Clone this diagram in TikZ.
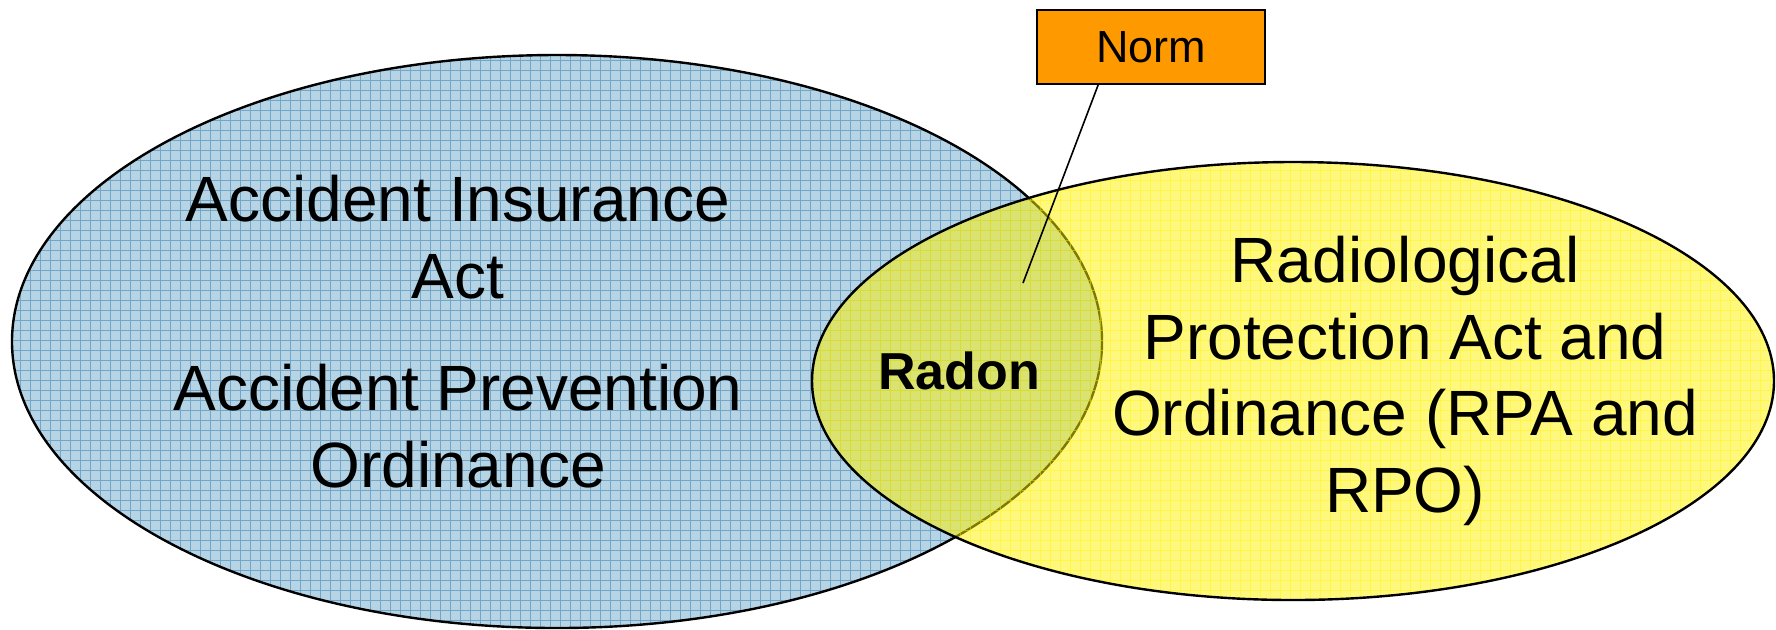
\documentclass[tikz,border=0pt]{standalone}
\usepackage{fontspec}
\setmainfont{Liberation Sans}
\usetikzlibrary{positioning,calc}
\definecolor{bluefill}{RGB}{182,212,228}
\definecolor{bluegrid}{RGB}{112,166,202}
\definecolor{normorange}{RGB}{255,153,0}
\tikzset{
  biglabel/.style={align=center,inner sep=0pt,font=\fontsize{32}{38.4}\selectfont},
  rim/.style={draw=black,line width=1.2pt},
  normbox/.style={draw,fill=normorange,line width=0.8pt,minimum width=114pt,minimum height=37pt,font=\fontsize{22.5}{26}\selectfont}
}
\begin{document}
\begin{tikzpicture}[x=0.5pt,y=-0.5pt]
\useasboundingbox (0,0) rectangle (1776,629);
\begin{scope}
\clip (557,341.5) ellipse [x radius=545, y radius=286.5];
\fill[bluefill] (0,0) rectangle (1776,629);
\draw[bluegrid,line width=0.4pt] (0,0) grid[step=5pt] (1776,629);
\end{scope}
\draw[rim] (557,341.5) ellipse [x radius=545, y radius=286.5];
\fill[yellow,fill opacity=0.5] (1293,381) ellipse [x radius=481, y radius=219];
\begin{scope}
\clip (1293,381) ellipse [x radius=481, y radius=219];
\draw[yellow,opacity=0.45,line width=0.4pt] (0,0) grid[step=5pt] (1776,629);
\end{scope}
\draw[rim] (1293,381) ellipse [x radius=481, y radius=219];
\node[biglabel] (uvg) at (458,237) {Accident Insurance\\Act};
\node[biglabel] (uvv) at (458,426) {Accident Prevention\\Ordinance};
\node[biglabel] (rps) at (1405,381) {Radiological\\Protection Act and\\Ordinance (RPA and\\RPO)};
\node[font=\bfseries\fontsize{26}{31}\selectfont] (radon) at (959,371) {Radon};
\node[normbox] (norm) at (1151,47) {Norm};
\coordinate (tip) at (1023,283);
\draw[line width=0.8pt] ($(norm.south west)!0.27!(norm.south east)$) -- (tip);
\end{tikzpicture}
\end{document}
